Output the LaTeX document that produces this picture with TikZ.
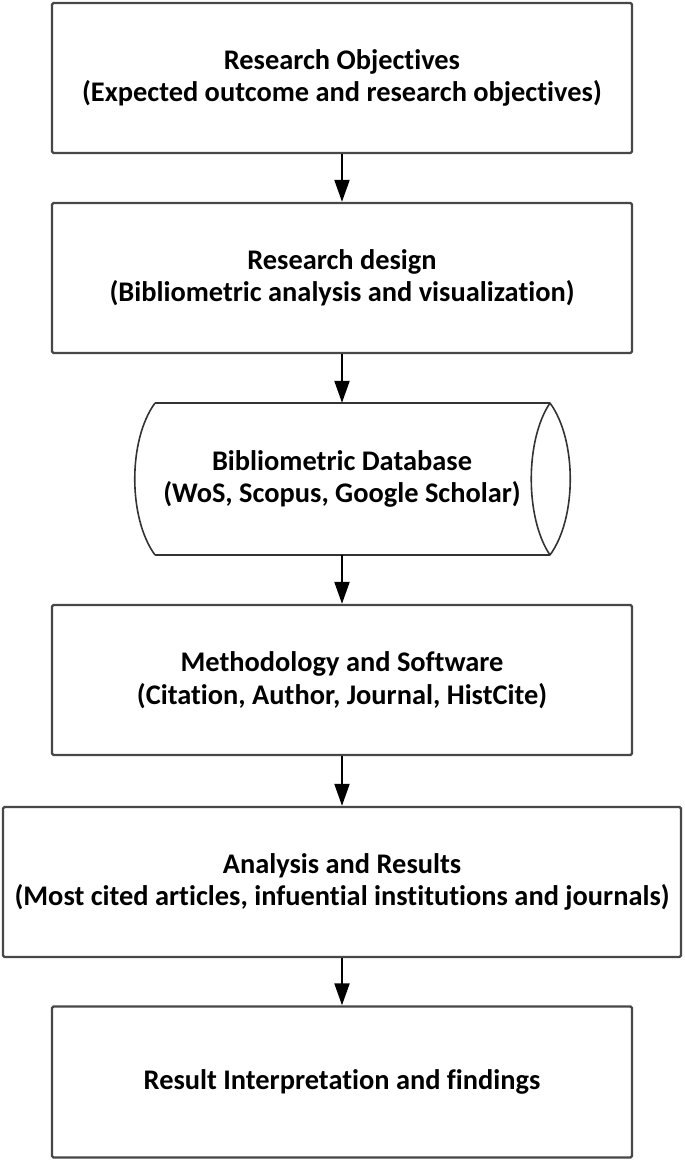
\documentclass[tikz,border=0pt]{standalone}
\usepackage{fontspec}
\setmainfont{Carlito}[Ligatures=NoCommon]
\usetikzlibrary{arrows.meta}
\begin{document}
\begin{tikzpicture}[x=1pt,y=-1pt,
  box/.style={draw=black!72, line width=2.4pt, rounded corners=1.5pt, inner sep=0pt,
    align=center, minimum height=150pt, font=\bfseries\fontsize{28.4}{32.5}\selectfont},
  txt/.style={inner sep=0pt, align=center, minimum height=152pt, font=\bfseries\fontsize{28.4}{32.5}\selectfont},
  arr/.style={-{Triangle[length=22pt,width=15pt]}, line width=2.2pt, black}]
\useasboundingbox (0,0) rectangle (685,1162);
\node[box, minimum width=580pt] (obj) at (342,78) {Research Objectives\\(Expected outcome and research objectives)};
\node[box, minimum width=580pt] (des) at (342,278) {Research design\\(Bibliometric analysis and visualization)};
\node[txt, minimum width=374pt] (db) at (342,479) {Bibliometric Database\\(WoS, Scopus, Google Scholar)};
\draw[black!80, line width=1.6pt]
  (155,403) -- (550,403)
  (155,555) -- (550,555)
  (155,403) .. controls (128,440) and (128,518) .. (155,555)
  (550,403) .. controls (577,440) and (577,518) .. (550,555)
  (550,403) .. controls (525,440) and (525,518) .. (550,555);
\node[box, minimum width=580pt] (met) at (342,680) {Methodology and Software\\(Citation, Author, Journal, HistCite)};
\node[box, minimum width=678pt] (ana) at (342,882) {Analysis and Results\\(Most cited articles, infuential institutions and journals)};
\node[box, minimum width=580pt, minimum height=151pt] (res) at (342,1082) {Result Interpretation and findings};
\draw[arr] (obj.south) -- (des.north);
\draw[arr] (des.south) -- (db.north);
\draw[arr] (db.south) -- (met.north);
\draw[arr] (met.south) -- (ana.north);
\draw[arr] (ana.south) -- (res.north);
\end{tikzpicture}
\end{document}
